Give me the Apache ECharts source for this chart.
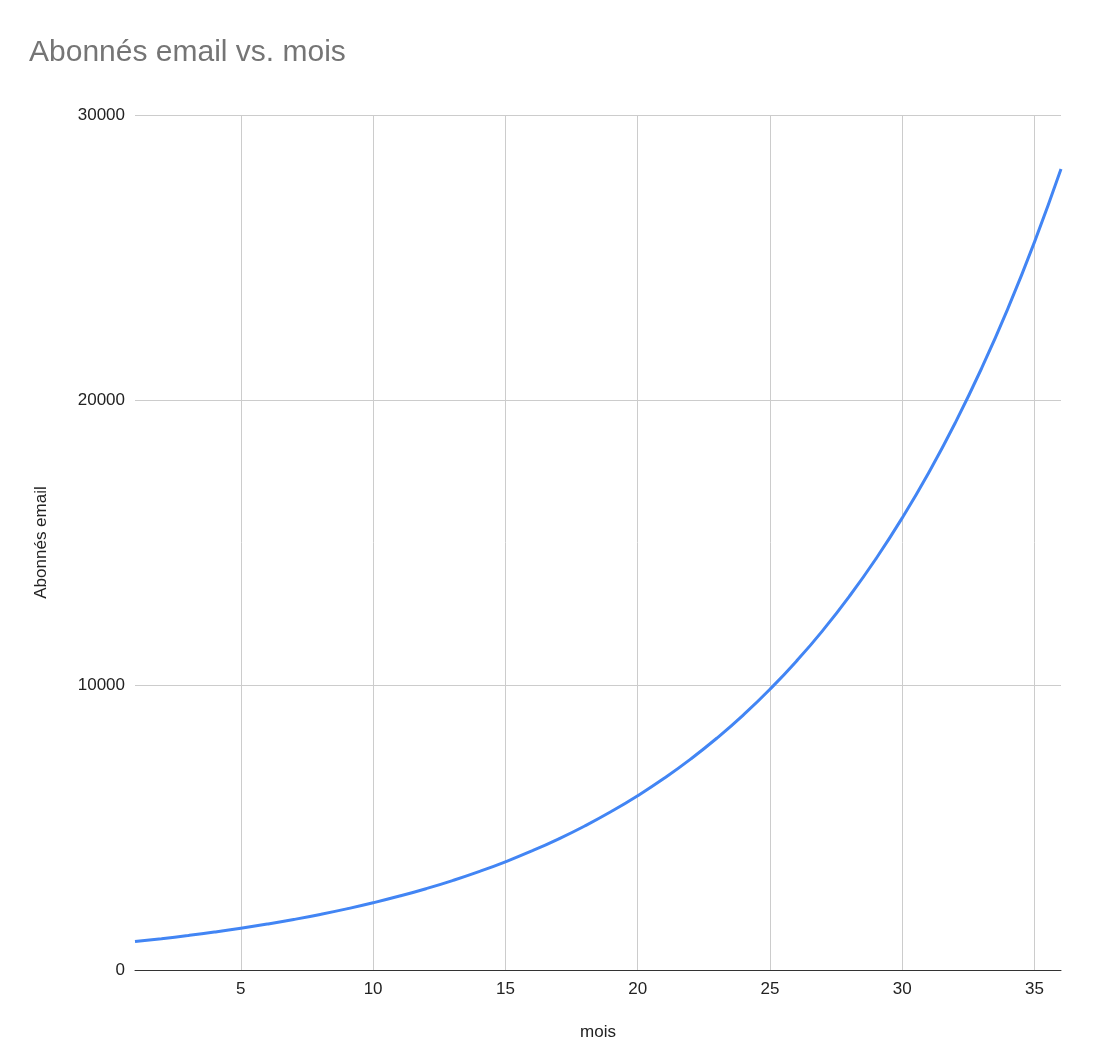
<!DOCTYPE html>
<html>
<head>
<meta charset="utf-8">
<script src="https://cdn.jsdelivr.net/npm/echarts@6/dist/echarts.min.js"></script>
<style>html,body{margin:0;padding:0;background:#fff;}#chart{width:1107px;height:1055px;}</style>
</head>
<body>
<div id="chart"></div>
<script>
const months = ["1","2","3","4","5","6","7","8","9","10","11","12","13","14","15","16","17","18","19","20","21","22","23","24","25","26","27","28","29","30","31","32","33","34","35","36"];
const subscribers = [1000,1100,1210,1331,1464,1611,1772,1949,2144,2358,2594,2853,3138,3452,3797,4177,4595,5054,5560,6116,6727,7400,8140,8954,9850,10835,11918,13110,14421,15863,17449,19194,21114,23225,25548,28102];
const yTicks = [0,10000,20000,30000];

const font = "Arial, 'Liberation Sans', sans-serif";
const chart = echarts.init(document.getElementById('chart'), null, {renderer:'canvas'});
chart.setOption({
  animation:false,
  backgroundColor:'#fff',
  title:{
    text:'Abonnés email vs. mois',
    left:29, top:38,
    padding:0,
    textStyle:{fontFamily:font, fontSize:30, fontWeight:'normal', color:'#757575'}
  },
  grid:{left:135, right:46, top:115, bottom:85, containLabel:false},
  xAxis:{
    type:'category',
    data:months,
    boundaryGap:false,
    name:'mois',
    nameLocation:'middle',
    nameGap:54,
    nameTextStyle:{fontFamily:font, fontSize:17, color:'#222'},
    axisLine:{show:true, lineStyle:{color:'#333', width:1}},
    axisTick:{show:false},
    axisLabel:{
      interval:function(i){return (i+1)%5===0;},
      margin:11,
      fontFamily:font, fontSize:17, color:'#222'
    },
    splitLine:{
      show:true,
      interval:function(i){return (i+1)%5===0;},
      lineStyle:{color:'#cccccc', width:1}
    }
  },
  yAxis:{
    type:'value',
    min:yTicks[0], max:yTicks[yTicks.length-1], interval:10000,
    name:'Abonnés email',
    nameLocation:'middle',
    nameGap:85,
    nameRotate:90,
    nameTextStyle:{fontFamily:font, fontSize:17, color:'#222'},
    axisLine:{show:false},
    axisTick:{show:false},
    axisLabel:{margin:10, fontFamily:font, fontSize:17, color:'#222', formatter:function(v){return String(v);}},
    splitLine:{show:true, lineStyle:{color:'#cccccc', width:1}}
  },
  series:[{
    type:'line',
    data:subscribers,
    smooth:true,
    showSymbol:false,
    symbol:'none',
    lineStyle:{color:'#4285F4', width:3},
    itemStyle:{color:'#4285F4'}
  }]
});
</script>
</body>
</html>
